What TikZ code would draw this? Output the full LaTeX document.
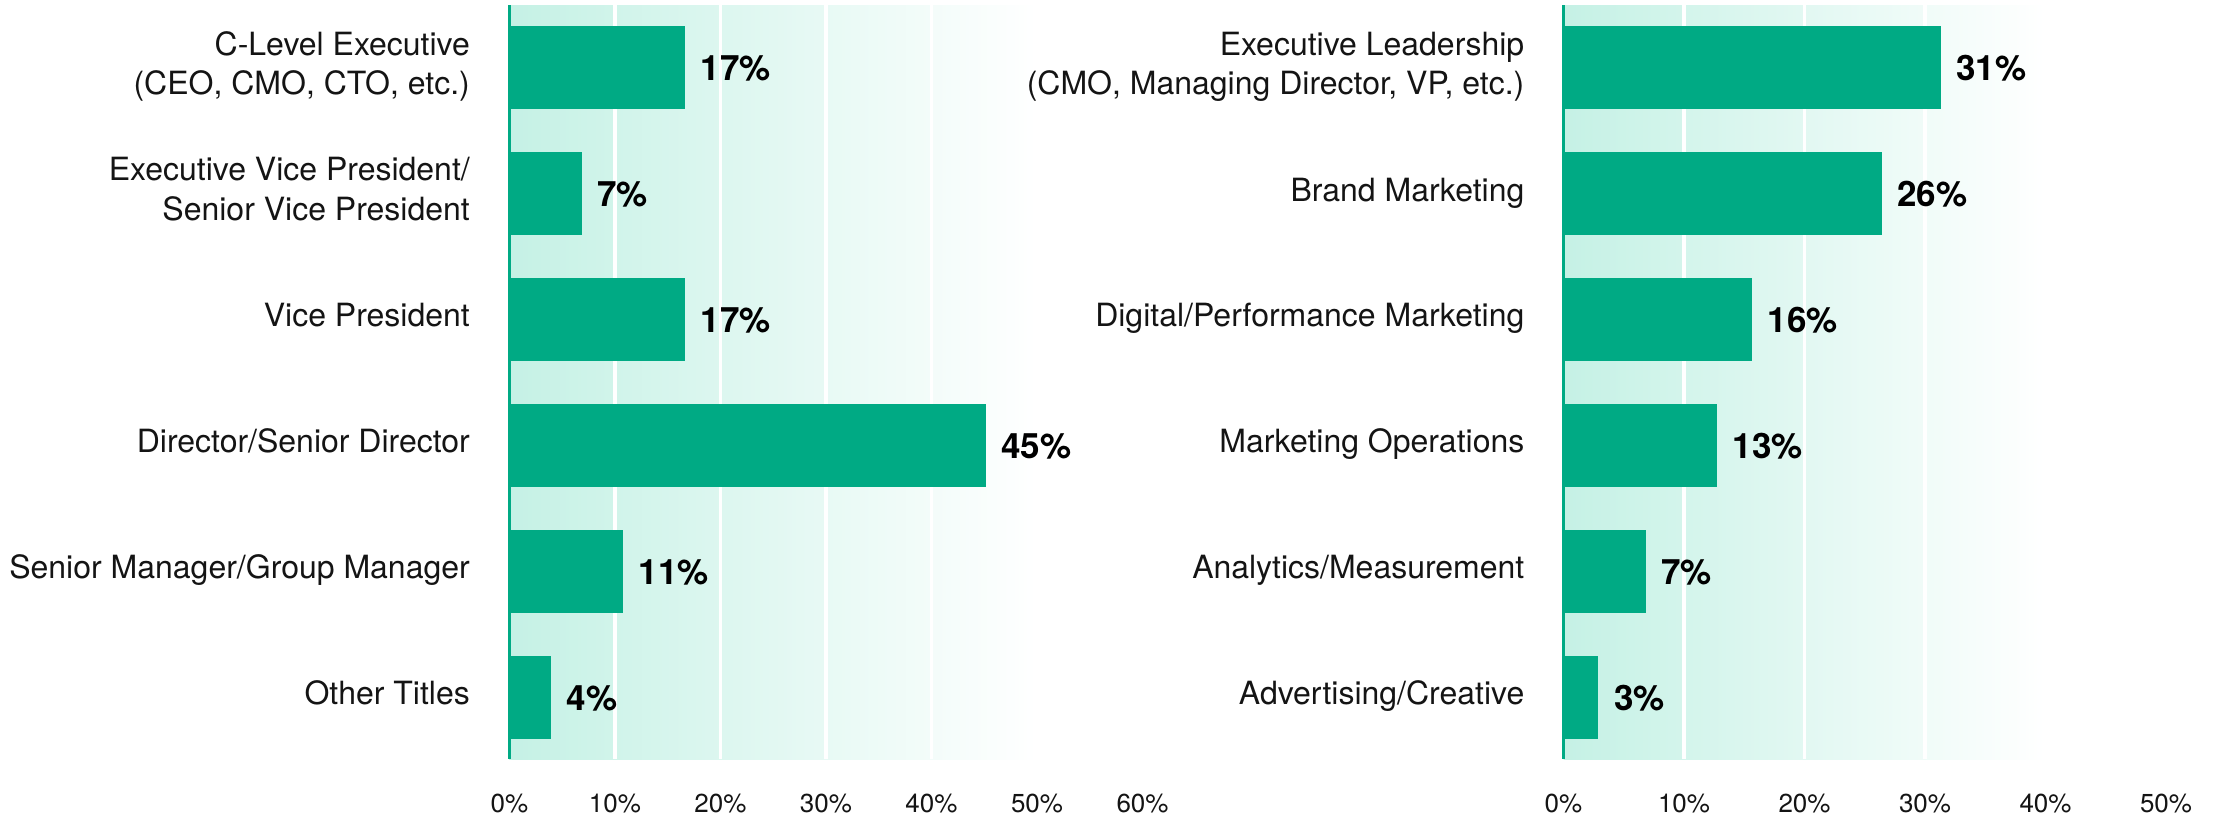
\documentclass[tikz,border=0pt]{standalone}
\usepackage{fontspec}
\setmainfont{TeX Gyre Heros}
\definecolor{barGreen}{RGB}{0,170,132}
\definecolor{bgTeal}{RGB}{197,241,229}
\definecolor{inkText}{RGB}{20,20,20}
\tikzset{
  bar/.style={fill=barGreen},
  gridline/.style={white,line width=3.5},
  axisline/.style={barGreen,line width=3},
  catlabel/.style={anchor=base east,align=right,inner sep=0pt,text=inkText,
    font=\fontsize{32}{39.3}\selectfont},
  vallabel/.style={anchor=base west,inner sep=0pt,text=black,
    font=\fontsize{35}{40}\selectfont\bfseries},
  ticklabel/.style={anchor=base,inner sep=0pt,text=inkText,
    font=\fontsize{26}{30}\selectfont}
}

\begin{document}
\begin{tikzpicture}[x=1pt,y=-1pt]
\useasboundingbox (0,0) rectangle (2221,819);
\shade[left color=bgTeal,right color=white] (509,5) rectangle (1037,759.3);
\shade[left color=bgTeal,right color=white] (1563.5,5) rectangle (2046,759.3);
\draw[gridline] (615,5) -- (615,759.3);
\draw[gridline] (720.5,5) -- (720.5,759.3);
\draw[gridline] (826,5) -- (826,759.3);
\draw[gridline] (931.5,5) -- (931.5,759.3);
\draw[gridline] (1684,5) -- (1684,759.3);
\draw[gridline] (1804.5,5) -- (1804.5,759.3);
\draw[gridline] (1925,5) -- (1925,759.3);

\fill[bar] (509,26) rectangle (685,109.3);
\fill[bar] (509,151.9) rectangle (581.5,235.2);
\fill[bar] (509,277.8) rectangle (685,361.1);
\fill[bar] (509,403.7) rectangle (985.7,487);
\fill[bar] (509,529.6) rectangle (623,612.9);
\fill[bar] (509,655.5) rectangle (551,738.8);
\fill[bar] (1563.5,26) rectangle (1940.7,109.3);
\fill[bar] (1563.5,151.9) rectangle (1881.7,235.2);
\fill[bar] (1563.5,277.8) rectangle (1752,361.1);
\fill[bar] (1563.5,403.7) rectangle (1717,487);
\fill[bar] (1563.5,529.6) rectangle (1645.7,612.9);
\fill[bar] (1563.5,655.5) rectangle (1598.3,738.8);
\draw[axisline] (509,5) -- (509,759.3);
\draw[axisline] (1563.5,5) -- (1563.5,759.3);

\node[catlabel] (cLevel) at (470,94.3) {C-Level Executive\\(CEO, CMO, CTO, etc.)};
\node[catlabel] (evpSvp) at (470,220.2) {Executive Vice President/\\Senior Vice President};
\node[catlabel] (vp) at (470,326.9) {Vice President};
\node[catlabel] (director) at (470,452.8) {Director/Senior Director};
\node[catlabel] (manager) at (470,578.7) {Senior Manager/Group Manager};
\node[catlabel] (otherTitles) at (470,704.6) {Other Titles};

\node[catlabel] (execLead) at (1524.5,94.3) {Executive Leadership\\(CMO, Managing Director, VP, etc.)};
\node[catlabel] (brand) at (1524.5,201) {Brand Marketing};
\node[catlabel] (digital) at (1524.5,326.9) {Digital/Performance Marketing};
\node[catlabel] (mops) at (1524.5,452.8) {Marketing Operations};
\node[catlabel] (analytics) at (1524.5,578.7) {Analytics/Measurement};
\node[catlabel] (adCreative) at (1524.5,704.6) {Advertising/Creative};

\node[vallabel] (vCLevel) at (700.5,80.5) {17\%};
\node[vallabel] (vEvpSvp) at (597,206.4) {7\%};
\node[vallabel] (vVp) at (700.5,332.3) {17\%};
\node[vallabel] (vDirector) at (1001.2,458.2) {45\%};
\node[vallabel] (vManager) at (638.5,584.1) {11\%};
\node[vallabel] (vOther) at (566.5,710) {4\%};
\node[vallabel] (vExecLead) at (1956.2,80.5) {31\%};
\node[vallabel] (vBrand) at (1897.2,206.4) {26\%};
\node[vallabel] (vDigital) at (1767.5,332.3) {16\%};
\node[vallabel] (vMops) at (1732.5,458.2) {13\%};
\node[vallabel] (vAnalytics) at (1661.2,584.1) {7\%};
\node[vallabel] (vAdCreative) at (1613.8,710) {3\%};

\node[ticklabel] (lt0) at (509.5,812.2) {0\%};
\node[ticklabel] (lt10) at (615,812.2) {10\%};
\node[ticklabel] (lt20) at (720.5,812.2) {20\%};
\node[ticklabel] (lt30) at (826,812.2) {30\%};
\node[ticklabel] (lt40) at (931.5,812.2) {40\%};
\node[ticklabel] (lt50) at (1037,812.2) {50\%};
\node[ticklabel] (lt60) at (1142.5,812.2) {60\%};
\node[ticklabel] (rt0) at (1563.5,812.2) {0\%};
\node[ticklabel] (rt10) at (1684,812.2) {10\%};
\node[ticklabel] (rt20) at (1804.5,812.2) {20\%};
\node[ticklabel] (rt30) at (1925,812.2) {30\%};
\node[ticklabel] (rt40) at (2045.5,812.2) {40\%};
\node[ticklabel] (rt50) at (2166,812.2) {50\%};
\end{tikzpicture}
\end{document}
